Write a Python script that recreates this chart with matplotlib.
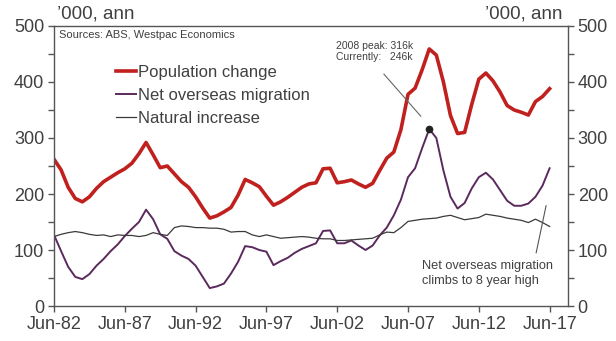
import numpy as np
import matplotlib
matplotlib.use("Agg")
import matplotlib.pyplot as plt
from matplotlib.ticker import MultipleLocator

plt.rcParams['font.family'] = ['Liberation Sans', 'DejaVu Sans']

# Semi-annual observations, Jun-82 to Jun-17 ('000, annual)
start_year = 1982.5
pop_change = [262, 243, 212, 192, 186, 195, 210, 222, 230, 238,
              245, 255, 272, 292, 270, 247, 250, 236, 222, 212,
              195, 175, 157, 161, 168, 176, 198, 226, 220, 213,
              196, 180, 186, 194, 203, 212, 218, 220, 245, 246,
              220, 222, 225, 218, 212, 219, 242, 264, 275, 315,
              378, 389, 422, 459, 448, 400, 340, 308, 310, 360,
              405, 416, 402, 382, 358, 350, 346, 341, 365, 374,
              388]
net_migration = [127, 98, 70, 52, 48, 57, 72, 84, 98, 110,
                 125, 138, 150, 172, 155, 128, 120, 98, 90, 84,
                 72, 52, 32, 35, 40, 58, 79, 107, 105, 100,
                 97, 73, 80, 86, 95, 102, 107, 112, 134, 135,
                 112, 112, 117, 108, 100, 108, 126, 140, 162, 190,
                 230, 246, 282, 316, 300, 242, 195, 174, 184, 210,
                 230, 238, 226, 207, 188, 179, 179, 183, 195, 215,
                 246]
natural_increase = [124, 128, 131, 133, 131, 128, 126, 127, 124, 127,
                    126, 126, 124, 126, 131, 128, 126, 140, 143, 142,
                    140, 140, 139, 139, 137, 132, 133, 133, 127, 124,
                    127, 124, 121, 122, 123, 124, 123, 121, 120, 120,
                    117, 117, 118, 119, 120, 121, 127, 132, 131, 140,
                    151, 153, 155, 156, 157, 160, 162, 158, 154, 156,
                    158, 164, 162, 160, 157, 155, 153, 149, 155, 149,
                    142]

tick_years = [1982.5, 1987.5, 1992.5, 1997.5, 2002.5, 2007.5, 2012.5, 2017.5]
tick_labels = ['Jun-82', 'Jun-87', 'Jun-92', 'Jun-97', 'Jun-02', 'Jun-07', 'Jun-12', 'Jun-17']
peak_idx = net_migration.index(max(net_migration))

t = start_year + 0.5 * np.arange(len(pop_change))

RED = '#C0211F'
PURPLE = '#5A2A5C'
GREY = '#3A3A3A'
TXT = '#404040'

fig = plt.figure(figsize=(6.16, 3.41), dpi=100)
ax = fig.add_axes([0.0877, 0.1026, 0.8344, 0.8212])

ax.plot(t, pop_change, color=RED, lw=2.6, label='Population change')
ax.plot(t, net_migration, color=PURPLE, lw=1.4, label='Net overseas migration')
ax.plot(t, natural_increase, color=GREY, lw=0.9, label='Natural increase')
ax.plot(t[peak_idx], net_migration[peak_idx], 'o', color='#222222', ms=4.5, zorder=5)

ax.set_xlim(1982.5, 2018.8)
ax.set_ylim(0, 500)
ax.set_xticks(tick_years)
ax.set_xticklabels(tick_labels)
ax.yaxis.set_major_locator(MultipleLocator(100))
ax.yaxis.set_minor_locator(MultipleLocator(50))

for s in ax.spines.values():
    s.set_color('#555555')
    s.set_linewidth(1.0)
ax.tick_params(axis='both', which='both', direction='out', length=4, width=1,
               color='#555555', labelcolor=TXT, labelsize=13)
ax.tick_params(axis='y', which='both', left=True, right=True, labelleft=True, labelright=True, pad=3)
ax.tick_params(axis='x', pad=3)

# units on both sides
fig.text(0.093, 0.958, '\u2019000, ann', fontsize=13.5, color=TXT, ha='left', va='center')
fig.text(0.913, 0.958, '\u2019000, ann', fontsize=13.5, color=TXT, ha='right', va='center')
ax.text(0.01, 0.985, 'Sources: ABS, Westpac Economics', transform=ax.transAxes,
        fontsize=8, color=TXT, ha='left', va='top')

ax.legend(loc='upper left', bbox_to_anchor=(0.108, 0.885), frameon=False, fontsize=12,
          handlelength=1.2, handletextpad=0.1, labelspacing=0.48, labelcolor=TXT,
          borderaxespad=0)

# annotations
ax.text(2002.4, 455, '2008 peak: 316k\nCurrently:   246k', fontsize=7.5, color=TXT,
        ha='left', va='center', linespacing=1.15)
ax.plot([2005.8, 2008.4], [414, 339], color='#666666', lw=0.8)

ax.text(2008.5, 58, 'Net overseas migration\nclimbs to 8 year high', fontsize=9.2,
        color=TXT, ha='left', va='center', linespacing=1.3)
ax.plot([2016.55, 2017.25], [95, 179], color='#555555', lw=0.8)

fig.savefig('out.png', dpi=100)
